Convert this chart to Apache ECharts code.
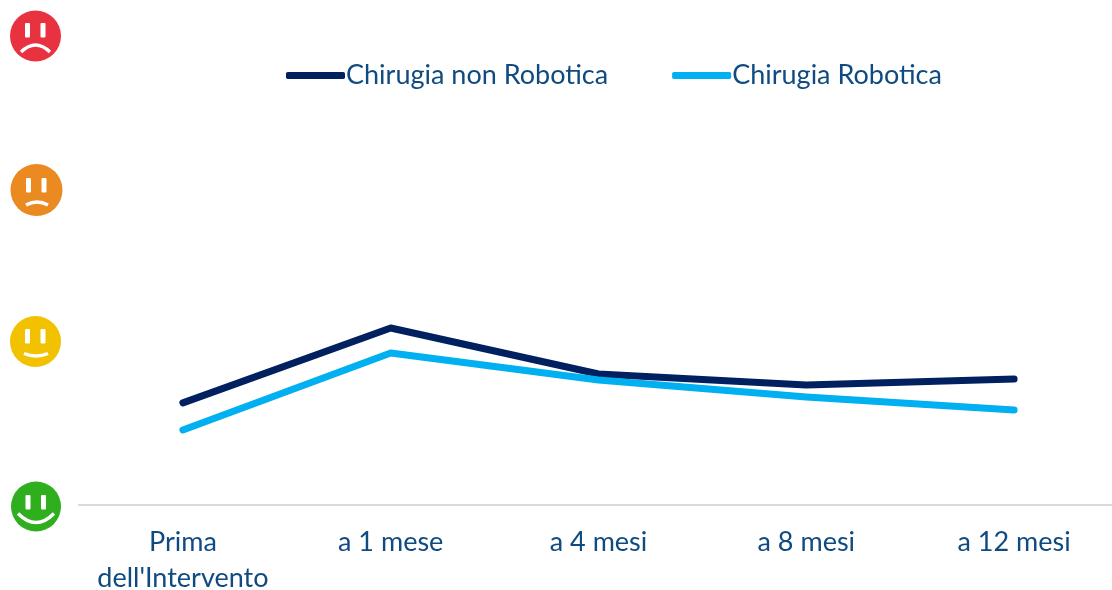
<!DOCTYPE html>
<html><head><meta charset="utf-8">
<style>html,body{margin:0;padding:0;background:#fff}#c{width:1112px;height:590px}</style>
<script src="https://cdn.jsdelivr.net/npm/echarts@6/dist/echarts.min.js"></script>
</head><body><div id="c"></div>
<script>
const categories = ["Prima\ndell'Intervento", "a 1 mese", "a 4 mesi", "a 8 mesi", "a 12 mesi"];
const nonRobotica = [0.653, 1.132, 0.838, 0.768, 0.806];
const robotica = [0.48, 0.972, 0.80, 0.691, 0.608];
const seriesNames = ["Chirugia non Robotica", "Chirugia Robotica"];
const faces = [
  {color:'#e8323f', cx:35.5, cy:36, r:25.5, eyeY:-13, mouth:{x1:-14.5,y1:16,cpx1:0,cpy1:2,x2:14.5,y2:16}},
  {color:'#ea8a20', cx:36.5, cy:190, r:26, eyeY:-12, mouth:{x1:-10.5,y1:15,cpx1:0.5,cpy1:9,x2:11.5,y2:15}},
  {color:'#f2c200', cx:35.5, cy:341.5, r:25.5, eyeY:-12.5, mouth:{x1:-11.5,y1:12,cpx1:0.5,cpy1:17,x2:12.5,y2:12}},
  {color:'#2fae1e', cx:36, cy:506.5, r:25, eyeY:-11.5, mouth:{x1:-18,y1:7,cpx1:0,cpy1:25,x2:18,y2:7}}
];
const graphic = faces.map(f => ({
  type:'group', x:f.cx, y:f.cy, silent:true,
  children:[
    {type:'circle', shape:{cx:0,cy:0,r:f.r}, style:{fill:f.color}},
    {type:'rect', shape:{x:-10.5,y:f.eyeY,width:5,height:14.5,r:1}, style:{fill:'#fff'}},
    {type:'rect', shape:{x:5,y:f.eyeY,width:5,height:14.5,r:1}, style:{fill:'#fff'}},
    {type:'bezierCurve', shape:f.mouth, style:{fill:'none',stroke:'#fff',lineWidth:3.4}}
  ]
}));
const chart = echarts.init(document.getElementById('c'), null, {renderer:'canvas'});
const lineSeries = (name, data, color) => ({
  name, type:'line', data, symbol:'none', smooth:false, animation:false,
  lineStyle:{color, width:7, cap:'round', join:'round'}, itemStyle:{color}
});
chart.setOption({
  animation:false,
  backgroundColor:'#fff',
  graphic,
  legend:{
    left:281, top:57, itemWidth:59, itemHeight:7, itemGap:64, icon:'roundRect',
    data:seriesNames,
    textStyle:{fontFamily:'Lato', fontSize:27, color:'#0f4a80', padding:[0,0,0,-4]}
  },
  grid:{left:79, right:-6, top:36, bottom:85, outerBoundsMode:'none'},
  xAxis:{
    type:'category', data:categories, boundaryGap:true,
    axisLine:{lineStyle:{color:'#d9d9d9', width:2}}, axisTick:{show:false},
    axisLabel:{fontFamily:'Lato', fontSize:27, lineHeight:36, color:'#0f4a80', margin:19, interval:0}
  },
  yAxis:{type:'value', min:0, max:3, interval:1, axisLine:{show:false}, axisTick:{show:false}, axisLabel:{show:false}, splitLine:{show:false}},
  series:[lineSeries(seriesNames[0], nonRobotica, '#002060'), lineSeries(seriesNames[1], robotica, '#00b0f0')]
});
</script></body></html>
